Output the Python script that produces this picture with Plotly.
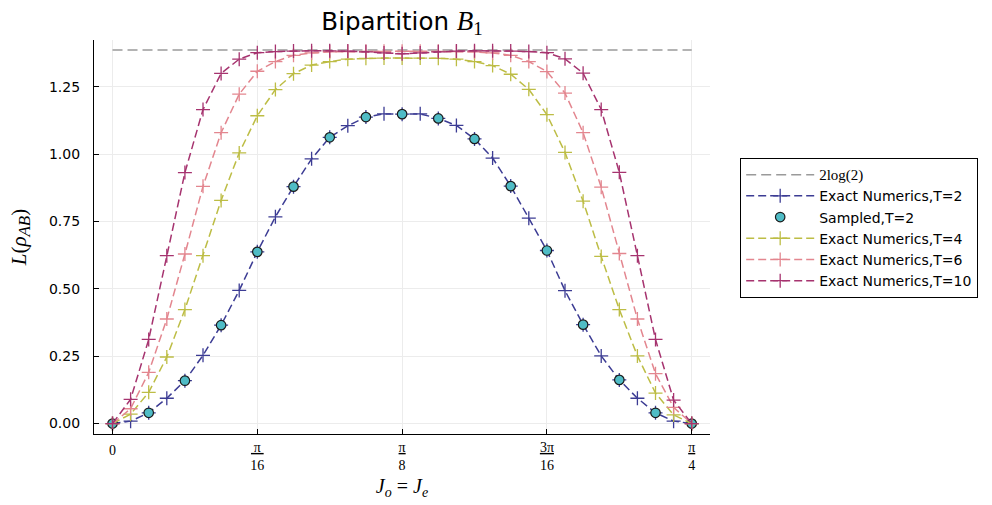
import math
import plotly.graph_objects as go

# ---------------- data ----------------
J_exact = [k * math.pi / 128 for k in range(33)]
J_sampled = [k * math.pi / 64 for k in range(17)]

L_T2 = [0.000, 0.009, 0.040, 0.094, 0.159, 0.253, 0.365, 0.494, 0.637, 0.767,
        0.879, 0.982, 1.062, 1.105, 1.137, 1.149, 1.148, 1.149, 1.132, 1.106,
        1.056, 0.985, 0.881, 0.762, 0.642, 0.493, 0.367, 0.251, 0.162, 0.094,
        0.040, 0.009, 0.000]
L_sampled_T2 = [0.000, 0.040, 0.159, 0.365, 0.637, 0.879, 1.062, 1.137, 1.148,
                1.132, 1.056, 0.881, 0.642, 0.367, 0.162, 0.040, 0.000]
L_T4 = [0.000, 0.035, 0.116, 0.247, 0.423, 0.623, 0.828, 1.004, 1.142, 1.239,
        1.298, 1.330, 1.343, 1.352, 1.355, 1.356, 1.356, 1.356, 1.355, 1.352,
        1.343, 1.328, 1.296, 1.240, 1.146, 1.006, 0.825, 0.620, 0.423, 0.251,
        0.113, 0.032, 0.000]
L_T6 = [0.000, 0.055, 0.190, 0.388, 0.629, 0.880, 1.079, 1.222, 1.307, 1.343,
        1.366, 1.375, 1.379, 1.380, 1.381, 1.381, 1.381, 1.381, 1.381, 1.380,
        1.379, 1.375, 1.366, 1.343, 1.306, 1.226, 1.079, 0.877, 0.631, 0.388,
        0.185, 0.060, 0.000]
L_T10 = [0.000, 0.090, 0.312, 0.623, 0.931, 1.165, 1.299, 1.352, 1.376, 1.380,
         1.382, 1.383, 1.383, 1.382, 1.379, 1.375, 1.372, 1.375, 1.379, 1.382,
         1.383, 1.383, 1.382, 1.380, 1.376, 1.353, 1.300, 1.165, 0.932, 0.623,
         0.312, 0.087, 0.000]

ref_x = [0, math.pi / 4]
ref_y = [2 * math.log(2), 2 * math.log(2)]

x_tickvals = [0, math.pi / 16, math.pi / 8, 3 * math.pi / 16, math.pi / 4]
x_ticktext = ["<sub><span style='font-size:14px'>0</span></sub>",
              "<u>&#8201;π&#8201;</u><br>16",
              "<u>π</u><br>8",
              "<u>3π</u><br>16",
              "<u>π</u><br>4"]
y_tickvals = [0, 0.25, 0.5, 0.75, 1.0, 1.25]
y_ticktext = ["0.00", "0.25", "0.50", "0.75", "1.00", "1.25"]

# ---------------- styles ----------------
SERIF = "Liberation Serif"
SANS = "DejaVu Sans"
C_REF = "#9a9a9a"
C_T2 = "#3c3c94"
C_SAMP = "#4fbcc6"
C_T4 = "#bdbd45"
C_T6 = "#e3868f"
C_T10 = "#a6336f"
DASH = "8px,4px"


def exact_trace(x, y, color, name):
    return go.Scatter(
        x=x, y=y, mode="lines+markers", name=name,
        line=dict(color=color, width=1.5, dash=DASH),
        marker=dict(symbol="cross-thin", size=10,
                    line=dict(color=color, width=1.3)),
    )


fig = go.Figure()
fig.add_trace(go.Scatter(
    x=ref_x, y=ref_y, mode="lines",
    name=f"<span style='font-family:{SERIF};font-size:15px'>2log(2)</span>",
    line=dict(color=C_REF, width=1.5, dash="10px,5px"),
))
fig.add_trace(exact_trace(J_exact, L_T2, C_T2, "Exact Numerics,T=2"))
fig.add_trace(go.Scatter(
    x=J_sampled, y=L_sampled_T2, mode="markers", name="Sampled,T=2",
    marker=dict(symbol="circle", size=9.5, color=C_SAMP,
                line=dict(color="#1a1a1a", width=1.2)),
))
fig.add_trace(exact_trace(J_exact, L_T4, C_T4, "Exact Numerics,T=4"))
fig.add_trace(exact_trace(J_exact, L_T6, C_T6, "Exact Numerics,T=6"))
fig.add_trace(exact_trace(J_exact, L_T10, C_T10, "Exact Numerics,T=10"))

fig.update_layout(
    width=992, height=505,
    margin=dict(l=94, r=282, t=40, b=68),
    paper_bgcolor="white", plot_bgcolor="white",
    font=dict(family=SANS, size=14, color="black"),
    title=dict(
        text=(f"Bipartition <span style='font-family:{SERIF};font-size:27px'>"
              "<i>B</i><sub>1</sub></span>"),
        x=0.5, xref="paper", xanchor="center",
        y=1 - 21 / 505, yref="container", yanchor="middle",
        font=dict(family=SANS, size=24.5),
    ),
    showlegend=True,
    legend=dict(
        x=1.049, xanchor="left", y=0.5227, yanchor="middle",
        bordercolor="black", borderwidth=1, bgcolor="white",
        font=dict(family=SANS, size=14),
        itemwidth=68, tracegroupgap=0,
    ),
    xaxis=dict(
        range=[-0.0251, 0.8102],
        tickvals=x_tickvals, ticktext=x_ticktext,
        tickfont=dict(family=SERIF, size=14),
        showgrid=True, gridcolor="#ececec", gridwidth=1,
        zeroline=False, showline=True, linecolor="black", linewidth=1.3,
        ticks="inside", ticklen=5, tickcolor="black",
        title=dict(text="<i>J</i><sub><i>o</i></sub> = <i>J</i><sub><i>e</i></sub>",
                   font=dict(family=SERIF, size=20), standoff=6),
    ),
    yaxis=dict(
        range=[-0.0387, 1.423],
        tickvals=y_tickvals, ticktext=y_ticktext,
        tickfont=dict(family=SANS, size=14),
        showgrid=True, gridcolor="#ececec", gridwidth=1,
        zeroline=False, showline=True, linecolor="black", linewidth=1.3,
        ticks="inside", ticklen=5, tickcolor="black",
        ticklabelstandoff=10,
        title=dict(text=("<i>L</i>(<i>ρ</i><sub><span style='font-size:17px'>"
                         "<i>AB</i></span></sub>)"),
                   font=dict(family=SERIF, size=21), standoff=16),
    ),
)

fig.write_html("out.html")
